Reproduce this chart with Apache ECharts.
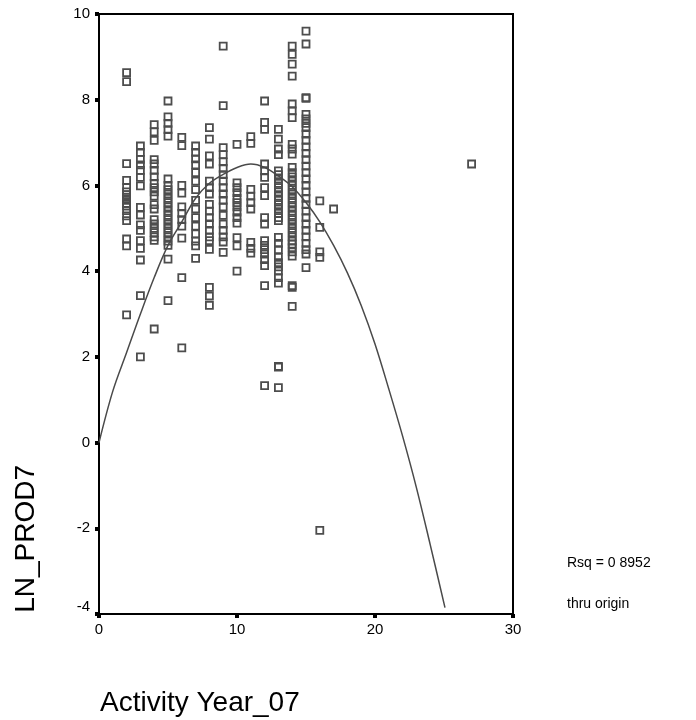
<!DOCTYPE html>
<html><head><meta charset="utf-8">
<script src="https://cdn.jsdelivr.net/npm/echarts@6/dist/echarts.min.js"></script>
<style>html,body{margin:0;padding:0;background:#fff}#c{width:696px;height:720px}</style>
</head><body><div id="c"></div>
<script>
// Observed values: activity year -> LN_PROD7 values
var col2 = [8.63, 8.42, 6.51, 6.12, 5.95, 5.85, 5.78, 5.72, 5.65, 5.58, 5.52, 5.41, 5.29, 5.18, 4.75, 4.59, 2.98];
var col3 = [6.92, 6.77, 6.61, 6.48, 6.35, 6.19, 5.99, 5.49, 5.31, 5.08, 4.95, 4.71, 4.53, 4.26, 3.43, 2.0];
var col4 = [7.42, 7.25, 7.05, 6.6, 6.5, 6.35, 6.2, 6.05, 5.95, 5.85, 5.75, 5.55, 5.45, 5.2, 5.1, 5.0, 4.9, 4.8, 4.72, 2.65];
var col5 = [7.97, 7.6, 7.45, 7.3, 7.15, 6.15, 6.0, 5.9, 5.8, 5.7, 5.6, 5.5, 5.4, 5.3, 5.2, 5.1, 5.0, 4.9, 4.8, 4.7, 4.6, 4.28, 3.31];
var col6 = [7.12, 6.93, 6.0, 5.82, 5.5, 5.35, 5.2, 5.05, 4.77, 3.85, 2.21];
var col7 = [6.92, 6.77, 6.62, 6.48, 6.3, 6.1, 5.9, 5.65, 5.45, 5.25, 5.05, 4.87, 4.7, 4.59, 4.3];
var col8 = [7.35, 7.08, 6.69, 6.5, 6.1, 5.95, 5.8, 5.56, 5.4, 5.25, 5.1, 4.95, 4.8, 4.71, 4.51, 3.62, 3.42, 3.2];
var col9 = [9.25, 7.86, 6.88, 6.72, 6.55, 6.4, 6.25, 6.1, 5.95, 5.8, 5.65, 5.5, 5.3, 5.1, 4.95, 4.8, 4.68, 4.44];
var col10 = [6.96, 6.06, 5.95, 5.83, 5.7, 5.6, 5.5, 5.38, 5.25, 5.12, 4.78, 4.59, 4.0];
var col11 = [7.14, 6.98, 5.91, 5.75, 5.6, 5.45, 4.67, 4.53, 4.42];
var col12 = [7.97, 7.47, 7.31, 6.5, 6.34, 6.19, 5.95, 5.76, 5.25, 5.1, 4.71, 4.6, 4.5, 4.4, 4.27, 4.13, 3.66, 1.33];
var col13 = [7.31, 7.08, 6.85, 6.72, 6.34, 6.25, 6.15, 6.05, 5.95, 5.85, 5.75, 5.65, 5.55, 5.45, 5.35, 5.25, 5.18, 4.79, 4.65, 4.5, 4.32, 4.2, 4.1, 4.0, 3.85, 3.72, 1.78, 1.76, 1.28];
var col14 = [9.25, 9.06, 8.83, 8.55, 7.9, 7.74, 7.58, 6.96, 6.85, 6.73, 6.42, 6.3, 6.2, 6.1, 6.0, 5.9, 5.8, 5.7, 5.6, 5.5, 5.4, 5.3, 5.2, 5.1, 5.0, 4.9, 4.8, 4.7, 4.63, 4.55, 4.45, 4.35, 3.66, 3.62, 3.18];
var col15 = [9.6, 9.3, 8.05, 8.03, 7.66, 7.55, 7.45, 7.35, 7.2, 7.05, 6.9, 6.75, 6.6, 6.45, 6.3, 6.15, 6.0, 5.85, 5.7, 5.55, 5.4, 5.25, 5.1, 4.95, 4.8, 4.65, 4.5, 4.4, 4.08];
var col16 = [5.64, 5.02, 4.45, 4.32, -2.05];
var col17 = [5.45];
var col27 = [6.5];
var years = [2, 3, 4, 5, 6, 7, 8, 9, 10, 11, 12, 13, 14, 15, 16, 17, 27];
var columns = [col2, col3, col4, col5, col6, col7, col8, col9, col10, col11, col12, col13, col14, col15, col16, col17, col27];

// Fitted curve (thru origin)
var curveX = [0, 1, 2, 3, 4, 5, 6, 7, 8, 9, 10, 11, 12, 13, 14, 15, 16, 17, 18, 19, 20, 21, 22, 23, 24, 25.07];
var curveY = [0, 1.2, 2.1, 3.0, 3.85, 4.6, 5.15, 5.7, 6.05, 6.26, 6.42, 6.5, 6.42, 6.22, 5.97, 5.6, 5.15, 4.6, 3.96, 3.2, 2.3, 1.25, 0.15, -1.05, -2.38, -3.85];

var xTicks = [0, 10, 20, 30];
var yTicks = [-4, -2, 0, 2, 4, 6, 8, 10];

var pts = [];
years.forEach(function (yr, i) { columns[i].forEach(function (v) { pts.push([yr, v]); }); });
var curve = curveX.map(function (x, i) { return [x, curveY[i]]; });

var chart = echarts.init(document.getElementById('c'));
var font = 'Liberation Sans, Arial, sans-serif';
chart.setOption({
  animation: false,
  backgroundColor: '#fff',
  grid: { left: 99, top: 14, width: 414, height: 600, show: true, borderColor: '#000', borderWidth: 2, backgroundColor: 'transparent' },
  xAxis: {
    type: 'value', min: xTicks[0], max: xTicks[xTicks.length - 1], interval: 10,
    axisLine: { show: true, onZero: false, lineStyle: { color: '#000', width: 2 } },
    axisTick: { show: true, length: 4, lineStyle: { color: '#000', width: 4 } },
    axisLabel: { color: '#000', fontSize: 15, fontFamily: font, margin: 8 },
    splitLine: { show: false }
  },
  yAxis: {
    type: 'value', min: yTicks[0], max: yTicks[yTicks.length - 1], interval: 2,
    axisLine: { show: true, onZero: false, lineStyle: { color: '#000', width: 2 } },
    axisTick: { show: true, length: 4, lineStyle: { color: '#000', width: 4 } },
    axisLabel: { color: '#000', fontSize: 15, fontFamily: font, margin: 9, verticalAlignMinLabel: 'bottom' },
    splitLine: { show: false }
  },
  series: [
    {
      type: 'scatter', data: pts, symbol: 'rect', symbolSize: 7,
      itemStyle: { color: 'rgba(0,0,0,0)', borderColor: '#4d4d4d', borderWidth: 1.8, opacity: 1 },
      z: 2
    },
    {
      type: 'line', data: curve, smooth: 0.35, showSymbol: false, symbol: 'none',
      lineStyle: { color: '#4a4a4a', width: 1.5 }, z: 3
    }
  ],
  graphic: [
    { type: 'text', left: 12, top: 465, rotation: Math.PI / 2, style: { text: 'LN_PROD7', fontSize: 28, fontFamily: font, fill: '#000' } },
    { type: 'text', left: 100, top: 689, style: { text: 'Activity Year_07', fontSize: 28, fontFamily: font, fill: '#000' } },
    { type: 'text', left: 567, top: 556, style: { text: 'Rsq = 0 8952', fontSize: 14, fontFamily: font, fill: '#000' } },
    { type: 'text', left: 567, top: 597, style: { text: 'thru origin', fontSize: 14, fontFamily: font, fill: '#000' } }
  ]
});
</script></body></html>
